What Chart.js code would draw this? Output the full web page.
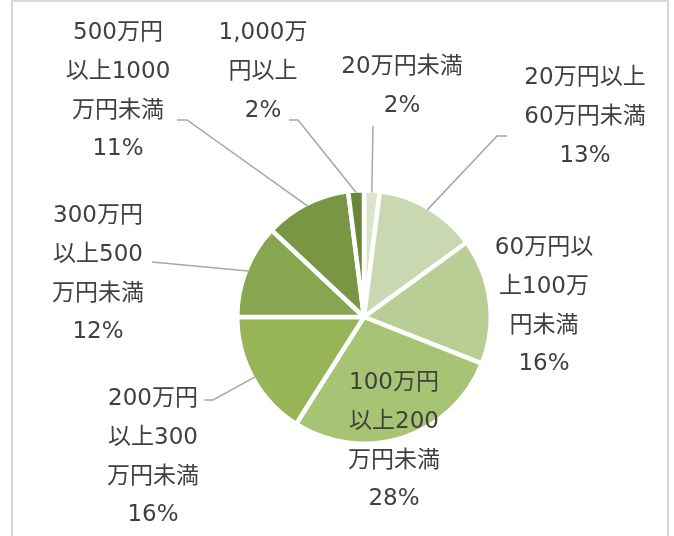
<!DOCTYPE html>
<html>
<head>
<meta charset="utf-8">
<script src="https://cdn.jsdelivr.net/npm/chart.js@4/dist/chart.umd.min.js"></script>
<style>
  html, body { margin: 0; padding: 0; background: #fff; }
</style>
</head>
<body>
<canvas id="chart" width="674" height="536"></canvas>
<script>
// データ
const categories = [
    '20万円未満',
    '20万円以上60万円未満',
    '60万円以上100万円未満',
    '100万円以上200万円未満',
    '200万円以上300万円未満',
    '300万円以上500万円未満',
    '500万円以上1000万円未満',
    '1,000万円以上'
];
const values = [2, 13, 16, 28, 16, 12, 11, 2];
// ラベルの改行位置（元の図の折り返しに合わせる）
const labelLines = [
    ['20万円未満'],
    ['20万円以上', '60万円未満'],
    ['60万円以', '上100万', '円未満'],
    ['100万円', '以上200', '万円未満'],
    ['200万円', '以上300', '万円未満'],
    ['300万円', '以上500', '万円未満'],
    ['500万円', '以上1000', '万円未満'],
    ['1,000万', '円以上']
];
const colors = ['#dbe5cc', '#c9d8b0', '#b8ce95', '#a7c374', '#97b457', '#88a650', '#799644', '#6a8739'];

// ラベルの配置（中心x, 1行目のy）と引き出し線
const labelLayout = [
    { x: 402, y: 67,  start: [373, 126], elbow: null },
    { x: 585, y: 78,  start: [507, 136], elbow: [497, 136] },
    { x: 544, y: 248, start: null, elbow: null },
    { x: 394, y: 383, start: null, elbow: null },
    { x: 153, y: 399, start: [204, 400], elbow: [213, 400] },
    { x: 98,  y: 216, start: [152, 262], elbow: null },
    { x: 118, y: 33,  start: [177, 120], elbow: [187, 120] },
    { x: 263, y: 33,  start: [289, 120], elbow: [298, 120] }
];

const total = values.reduce((a, b) => a + b, 0);

// 枠線・ラベル・引き出し線を描くプラグイン
const labelPlugin = {
    id: 'excelLabels',
    beforeDraw(chart) {
        const ctx = chart.ctx;
        ctx.save();
        ctx.strokeStyle = '#d9d9d9';
        ctx.lineWidth = 2;
        ctx.beginPath();
        ctx.moveTo(12, 540);
        ctx.lineTo(12, 1);
        ctx.lineTo(668, 1);
        ctx.lineTo(668, 540);
        ctx.stroke();
        ctx.restore();
    },
    afterDatasetsDraw(chart) {
        const ctx = chart.ctx;
        const meta = chart.getDatasetMeta(0);
        ctx.save();
        // 引き出し線
        ctx.strokeStyle = '#a6a6a6';
        ctx.lineWidth = 1.5;
        meta.data.forEach((arc, i) => {
            const lay = labelLayout[i];
            if (!lay.start) return;
            const p = arc.getProps(['x', 'y', 'startAngle', 'endAngle', 'outerRadius'], true);
            const mid = (p.startAngle + p.endAngle) / 2;
            const r = p.outerRadius - 2;
            const ex = p.x + Math.cos(mid) * r;
            const ey = p.y + Math.sin(mid) * r;
            ctx.beginPath();
            ctx.moveTo(lay.start[0], lay.start[1]);
            if (lay.elbow) ctx.lineTo(lay.elbow[0], lay.elbow[1]);
            ctx.lineTo(ex, ey);
            ctx.stroke();
        });
        // ラベル
        ctx.fillStyle = '#404040';
        ctx.font = '23px "DejaVu Sans", "Noto Sans CJK JP", sans-serif';
        ctx.textAlign = 'center';
        ctx.textBaseline = 'middle';
        meta.data.forEach((arc, i) => {
            const lay = labelLayout[i];
            const pct = Math.round(values[i] / total * 100) + '%';
            const lines = labelLines[i].concat([pct]);
            lines.forEach((t, k) => {
                ctx.fillText(t, lay.x, lay.y + k * 38.8);
            });
        });
        ctx.restore();
    }
};

new Chart(document.getElementById('chart'), {
    type: 'pie',
    data: {
        labels: categories,
        datasets: [{
            data: values,
            backgroundColor: colors,
            borderColor: '#ffffff',
            borderWidth: 4.5,
            hoverOffset: 0,
            offset: 0
        }]
    },
    options: {
        responsive: false,
        animation: false,
        events: [],
        layout: {
            padding: { left: 235, right: 181, top: 188, bottom: 90 }
        },
        plugins: {
            legend: { display: false },
            tooltip: { enabled: false }
        }
    },
    plugins: [labelPlugin]
});
</script>
</body>
</html>
